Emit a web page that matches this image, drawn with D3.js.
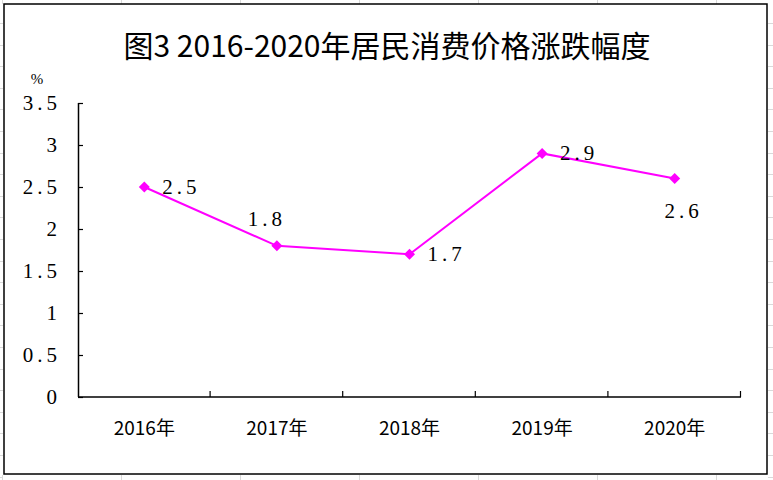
<!DOCTYPE html>
<html>
<head>
<meta charset="utf-8">
<script src="https://cdn.jsdelivr.net/npm/d3@7"></script>
<style>
  body { margin: 0; background: #fff; }
  svg { display: block; }
</style>
</head>
<body>
<div id="chart"></div>
<script>
// Chart data
const years = ['2016年', '2017年', '2018年', '2019年', '2020年'];
const cpiChange = [2.5, 1.8, 1.7, 2.9, 2.6];
const yTicks = [0, 0.5, 1, 1.5, 2, 2.5, 3, 3.5];
// where each data label sits relative to its point
const labelPlacement = ['right', 'above', 'right', 'right', 'below'];

const width = 773;
const height = 480;
const margin = { top: 103, right: 32, bottom: 83, left: 78 };
const innerWidth = width - margin.left - margin.right;
const innerHeight = height - margin.top - margin.bottom;

const svg = d3.select('#chart')
  .append('svg')
  .attr('width', width)
  .attr('height', height);

// faint spreadsheet cell lines, only visible round the chart frame
const cellLines = svg.append('g').attr('stroke', '#d9d9d9').attr('stroke-width', 1);
d3.range(2, width, 119).forEach(x => {
  cellLines.append('line').attr('x1', x + 0.5).attr('x2', x + 0.5).attr('y1', 0).attr('y2', 4);
  cellLines.append('line').attr('x1', x + 0.5).attr('x2', x + 0.5).attr('y1', 475).attr('y2', height);
});
d3.range(23, height, 21.6).forEach(y => {
  const yy = Math.round(y) + 0.5;
  cellLines.append('line').attr('x1', 0).attr('x2', 3).attr('y1', yy).attr('y2', yy);
  cellLines.append('line').attr('x1', 768).attr('x2', width).attr('y1', yy).attr('y2', yy);
});

// chart area with black border
svg.append('rect')
  .attr('x', 4)
  .attr('y', 4)
  .attr('width', 763)
  .attr('height', 470)
  .attr('fill', '#fff')
  .attr('stroke', '#000')
  .attr('stroke-width', 1.5);

svg.append('text')
  .attr('x', 387)
  .attr('y', 57)
  .attr('text-anchor', 'middle')
  .style('font-family', '"Noto Sans CJK SC", sans-serif')
  .style('font-size', '30px')
  .style('fill', '#000')
  .text('图3 2016-2020年居民消费价格涨跌幅度');

svg.append('text')
  .attr('x', 37)
  .attr('y', 84)
  .attr('text-anchor', 'middle')
  .style('font-family', '"Liberation Serif", serif')
  .style('font-size', '15px')
  .text('%');

const g = svg.append('g')
  .attr('transform', `translate(${margin.left},${margin.top})`);

const xScale = d3.scaleBand()
  .domain(years)
  .range([0, innerWidth]);

const yScale = d3.scaleLinear()
  .domain([0, 3.5])
  .range([innerHeight, 0]);

const numFont = '"Liberation Serif", serif';
const fmt = d => (d % 1 === 0 ? String(d) : d.toFixed(1));

// y axis: ticks point inward
const yAxis = g.append('g')
  .call(d3.axisRight(yScale).tickValues(yTicks).tickSize(5).tickFormat(''));
yAxis.select('.domain').attr('d', `M0.5,0V${innerHeight}`).attr('stroke-width', 1.5);
yAxis.selectAll('.tick line').attr('stroke-width', 1.2);

// tick labels placed in page coordinates, left of the axis
svg.append('g')
  .selectAll('text')
  .data(yTicks)
  .enter()
  .append('text')
  .attr('x', margin.left - 17)
  .attr('y', d => margin.top + yScale(d) + 7)
  .attr('text-anchor', 'end')
  .style('font-family', numFont)
  .style('font-size', '21px')
  .style('letter-spacing', '4px')
  .text(d => fmt(d));

// x axis: ticks at category boundaries, pointing up
const boundaries = years.map(y => xScale(y)).concat([innerWidth]);
const xAxis = g.append('g')
  .attr('transform', `translate(0,${innerHeight})`);
xAxis.append('line')
  .attr('x1', 0)
  .attr('x2', innerWidth)
  .attr('stroke', '#000')
  .attr('stroke-width', 1.5);
xAxis.selectAll('.tick-mark')
  .data(boundaries.slice(1))
  .enter()
  .append('line')
  .attr('x1', d => d - 0.5)
  .attr('x2', d => d - 0.5)
  .attr('y1', 0)
  .attr('y2', -6)
  .attr('stroke', '#000')
  .attr('stroke-width', 1.2);
xAxis.selectAll('.year-label')
  .data(years)
  .enter()
  .append('text')
  .attr('x', d => xScale(d) + xScale.bandwidth() / 2)
  .attr('y', 38)
  .attr('text-anchor', 'middle')
  .style('font-family', '"Noto Sans CJK SC", sans-serif')
  .style('font-size', '19px')
  .text(d => d);

// line
const points = years.map((y, i) => ({ year: y, value: cpiChange[i], place: labelPlacement[i] }));
const line = d3.line()
  .x(d => xScale(d.year) + xScale.bandwidth() / 2)
  .y(d => yScale(d.value));

g.append('path')
  .datum(points)
  .attr('fill', 'none')
  .attr('stroke', '#ff00ff')
  .attr('stroke-width', 2)
  .attr('d', line);

g.selectAll('.marker')
  .data(points)
  .enter()
  .append('path')
  .attr('transform', d => `translate(${xScale(d.year) + xScale.bandwidth() / 2},${yScale(d.value)})`)
  .attr('d', 'M0,-5.5L5.5,0L0,5.5L-5.5,0Z')
  .attr('fill', '#ff00ff');

// data labels
const labelOffset = {
  right: { dx: 18, dy: 7, anchor: 'start' },
  above: { dx: -10, dy: -20, anchor: 'middle' },
  below: { dx: 9, dy: 39, anchor: 'middle' }
};
g.selectAll('.data-label')
  .data(points)
  .enter()
  .append('text')
  .attr('x', d => xScale(d.year) + xScale.bandwidth() / 2 + labelOffset[d.place].dx)
  .attr('y', d => yScale(d.value) + labelOffset[d.place].dy)
  .attr('text-anchor', d => labelOffset[d.place].anchor)
  .style('font-family', numFont)
  .style('font-size', '21px')
  .style('letter-spacing', '4px')
  .text(d => fmt(d.value));
</script>
</body>
</html>
